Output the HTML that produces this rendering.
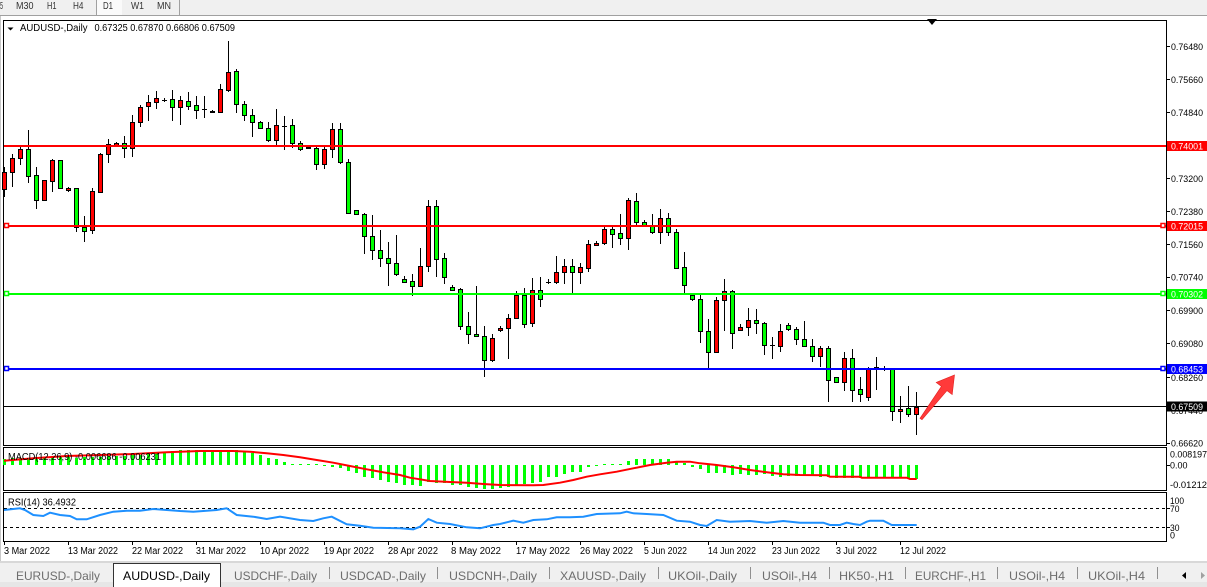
<!DOCTYPE html>
<html><head><meta charset="utf-8"><style>
html,body{margin:0;padding:0;background:#fff;}
svg{display:block;font-family:"Liberation Sans",Arial,sans-serif;}
</style></head><body>
<svg width="1207" height="587" viewBox="0 0 1207 587" xmlns="http://www.w3.org/2000/svg">
<rect x="0" y="0" width="1207" height="587" fill="#fff"/>
<!-- top toolbar -->
<rect x="0" y="0" width="1207" height="15" fill="#f0f0f0"/>
<rect x="96" y="0" width="26" height="15" fill="#fafafa"/>
<line x1="0" y1="15.5" x2="1207" y2="15.5" stroke="#a0a0a0"/>
<line x1="96.5" y1="0" x2="96.5" y2="15" stroke="#a0a0a0"/>
<line x1="179.5" y1="0" x2="179.5" y2="15" stroke="#a0a0a0"/>
<g font-size="10" fill="#333">
<text x="0" y="9" textLength="3" lengthAdjust="spacingAndGlyphs">5</text>
<text x="16" y="9" textLength="17.5" lengthAdjust="spacingAndGlyphs">M30</text>
<text x="47" y="9" textLength="9.5" lengthAdjust="spacingAndGlyphs">H1</text>
<text x="73" y="9" textLength="10.5" lengthAdjust="spacingAndGlyphs">H4</text>
<text x="103" y="9" textLength="10" lengthAdjust="spacingAndGlyphs">D1</text>
<text x="131" y="9" textLength="13" lengthAdjust="spacingAndGlyphs">W1</text>
<text x="157" y="9" textLength="14" lengthAdjust="spacingAndGlyphs">MN</text>
</g>
<line x1="0.5" y1="16" x2="0.5" y2="563" stroke="#c8c8c8"/>

<!-- pane borders -->
<g fill="none" stroke="#000" stroke-width="1" shape-rendering="crispEdges">
<rect x="3.5" y="20.5" width="1163" height="425"/>
<rect x="3.5" y="447.5" width="1163" height="43"/>
<rect x="3.5" y="492.5" width="1163" height="49"/>
</g>
<!-- chart shift marker -->
<path d="M927 19H937L932 25Z" fill="#000"/>

<!-- candles -->
<g shape-rendering="crispEdges">
<path fill="none" stroke="#000" stroke-width="1" d="M4.5 167V197M12.5 154V187M20.5 147V165M28.5 130V183M36.5 167V209M44.5 180V201M52.5 159V192M60.5 160V188M68.5 187V192M76.5 188V232M84.5 216V242M92.5 188V234M100.5 153V193M108.5 139V163M116.5 142V146M124.5 136V158M132.5 115V157M140.5 105V127M148.5 95V121M156.5 91V109M164.5 98V102M172.5 90V121M180.5 96V125M188.5 92V110M196.5 96V119M204.5 96V118M212.5 110V113M220.5 84V113M228.5 41V92M236.5 69V113M244.5 101V121M252.5 109V137M260.5 121V128M268.5 122V142M276.5 109V145M284.5 116V150M292.5 119V148M300.5 141V151M308.5 146V149M316.5 147V170M324.5 147V169M332.5 123V158M340.5 123V164M348.5 159V214M356.5 210V214M364.5 213V254M372.5 215V260M380.5 230V267M388.5 242V286M396.5 235V276M404.5 276V282M412.5 274V296M420.5 248V286M428.5 200V272M436.5 200V277M444.5 253V284M452.5 285V291M460.5 288V330M468.5 312V344M476.5 286V336M484.5 326V377M492.5 334V362M500.5 326V332M508.5 314V359M516.5 291V318M524.5 288V328M532.5 278V327M540.5 277V307M548.5 279V284M556.5 256V284M564.5 259V284M572.5 259V293M580.5 263V284M588.5 240V272M596.5 241V246M604.5 227V245M612.5 227V248M620.5 214V245M628.5 198V250M636.5 193V225M644.5 220V225M652.5 214V234M660.5 209V244M668.5 213V236M676.5 229V269M684.5 252V293M692.5 293V301M700.5 293V343M708.5 319V368M716.5 297V353M724.5 279V331M732.5 290V349M740.5 324V331M748.5 308V336M756.5 309V334M764.5 322V355M772.5 337V359M780.5 324V352M788.5 323V331M796.5 327V345M804.5 321V346M812.5 339V362M820.5 346V367M828.5 346V402M836.5 377V383M844.5 352V391M852.5 349V402M860.5 377V402M868.5 367V401M876.5 357V390M884.5 366V371M892.5 369V421M900.5 396V423M908.5 386V417M916.5 392V435"/>
<path fill="none" stroke="#000" stroke-width="1" d="M162 100.5H167M202 109.5H207M282 126.5H287M546 282.5H551M770 345.5H775M882 369.5H887"/>
<path fill="#ff0000" stroke="#000" stroke-width="1" d="M2.5 172.5h4v17h-4zM10.5 158.5h4v14h-4zM18.5 149.5h4v9h-4zM42.5 180.5h4v20h-4zM50.5 160.5h4v21h-4zM66.5 188.5h4v2h-4zM90.5 191.5h4v39h-4zM98.5 154.5h4v38h-4zM106.5 144.5h4v10h-4zM114.5 143.5h4v2h-4zM130.5 122.5h4v26h-4zM138.5 107.5h4v15h-4zM146.5 102.5h4v4h-4zM154.5 98.5h4v4h-4zM178.5 100.5h4v7h-4zM210.5 111.5h4v1h-4zM218.5 89.5h4v23h-4zM226.5 72.5h4v18h-4zM274.5 125.5h4v15h-4zM322.5 149.5h4v15h-4zM330.5 129.5h4v20h-4zM418.5 266.5h4v20h-4zM426.5 206.5h4v60h-4zM490.5 338.5h4v22h-4zM498.5 328.5h4v2h-4zM506.5 318.5h4v10h-4zM514.5 295.5h4v23h-4zM530.5 290.5h4v33h-4zM554.5 272.5h4v10h-4zM562.5 266.5h4v6h-4zM578.5 267.5h4v5h-4zM586.5 244.5h4v24h-4zM594.5 243.5h4v2h-4zM602.5 229.5h4v14h-4zM626.5 200.5h4v38h-4zM658.5 218.5h4v14h-4zM714.5 300.5h4v52h-4zM722.5 291.5h4v9h-4zM738.5 327.5h4v3h-4zM746.5 320.5h4v7h-4zM778.5 331.5h4v15h-4zM818.5 348.5h4v8h-4zM842.5 358.5h4v24h-4zM866.5 368.5h4v29h-4zM874.5 367.5h4v2h-4zM898.5 409.5h4v2h-4zM914.5 407.5h4v7h-4z"/>
<path fill="#00ff00" stroke="#000" stroke-width="1" d="M26.5 149.5h4v27h-4zM34.5 175.5h4v25h-4zM58.5 160.5h4v28h-4zM74.5 188.5h4v39h-4zM82.5 227.5h4v4h-4zM122.5 143.5h4v5h-4zM170.5 99.5h4v8h-4zM186.5 101.5h4v5h-4zM194.5 105.5h4v5h-4zM234.5 71.5h4v33h-4zM242.5 104.5h4v11h-4zM250.5 115.5h4v7h-4zM258.5 122.5h4v6h-4zM266.5 128.5h4v12h-4zM290.5 125.5h4v18h-4zM298.5 143.5h4v6h-4zM306.5 147.5h4v1h-4zM314.5 148.5h4v16h-4zM338.5 129.5h4v33h-4zM346.5 162.5h4v51h-4zM354.5 210.5h4v4h-4zM362.5 214.5h4v22h-4zM370.5 236.5h4v14h-4zM378.5 250.5h4v8h-4zM386.5 258.5h4v5h-4zM394.5 263.5h4v11h-4zM402.5 279.5h4v3h-4zM410.5 281.5h4v5h-4zM434.5 206.5h4v53h-4zM442.5 258.5h4v19h-4zM450.5 287.5h4v3h-4zM458.5 289.5h4v37h-4zM466.5 326.5h4v8h-4zM474.5 334.5h4v2h-4zM482.5 336.5h4v24h-4zM522.5 295.5h4v29h-4zM538.5 290.5h4v9h-4zM570.5 266.5h4v6h-4zM610.5 229.5h4v5h-4zM618.5 233.5h4v5h-4zM634.5 201.5h4v21h-4zM642.5 222.5h4v3h-4zM650.5 225.5h4v7h-4zM666.5 218.5h4v14h-4zM674.5 232.5h4v36h-4zM682.5 267.5h4v18h-4zM690.5 295.5h4v4h-4zM698.5 299.5h4v32h-4zM706.5 331.5h4v21h-4zM730.5 291.5h4v42h-4zM754.5 320.5h4v3h-4zM762.5 323.5h4v22h-4zM786.5 325.5h4v4h-4zM794.5 329.5h4v10h-4zM802.5 339.5h4v7h-4zM810.5 346.5h4v10h-4zM826.5 348.5h4v32h-4zM834.5 377.5h4v5h-4zM850.5 358.5h4v32h-4zM858.5 389.5h4v5h-4zM890.5 369.5h4v42h-4zM906.5 408.5h4v6h-4z"/>
</g>

<!-- horizontal lines -->
<g shape-rendering="crispEdges">
<line x1="4" y1="146" x2="1166" y2="146" stroke="#ff0000" stroke-width="2"/>
<line x1="4" y1="226" x2="1166" y2="226" stroke="#ff0000" stroke-width="2"/>
<line x1="4" y1="294" x2="1166" y2="294" stroke="#00ff00" stroke-width="2"/>
<line x1="4" y1="369" x2="1166" y2="369" stroke="#0000ff" stroke-width="2"/>
<line x1="4" y1="406.5" x2="1166" y2="406.5" stroke="#000" stroke-width="1"/>
</g>
<g fill="#fff" stroke-width="1.5">
<rect x="4.5" y="223.5" width="4" height="4" stroke="#ff0000"/>
<rect x="1161" y="223.5" width="4" height="4" stroke="#ff0000"/>
<rect x="4.5" y="291.5" width="4" height="4" stroke="#00ff00"/>
<rect x="1161" y="291.5" width="4" height="4" stroke="#00ff00"/>
<rect x="4.5" y="366.5" width="4" height="4" stroke="#0000ff"/>
<rect x="1161" y="366.5" width="4" height="4" stroke="#0000ff"/>
</g>

<!-- red arrow -->
<path d="M922 419.7L947 390.6L952.2 394.6L954.5 375L936.2 382.4L941.4 386.4L920 418.3Z" fill="#ff3a3a" stroke="#e02020" stroke-width="0.6"/>

<!-- title -->
<path d="M7.5 27.5H13.5L10.5 30.5Z" fill="#000"/>
<g font-size="10" fill="#000">
<text x="20" y="31" textLength="67.5" lengthAdjust="spacingAndGlyphs">AUDUSD-,Daily</text>
<text x="94.5" y="31" textLength="140.5" lengthAdjust="spacingAndGlyphs">0.67325 0.67870 0.66806 0.67509</text>
</g>

<!-- price axis -->
<g stroke="#000" shape-rendering="crispEdges">
<path d="M1166 46.5h4M1166 79.5h4M1166 112.5h4M1166 178.5h4M1166 211.5h4M1166 244.5h4M1166 277.5h4M1166 310.5h4M1166 343.5h4M1166 377.5h4M1166 410.5h4M1166 443.5h4M1166 465.5h4M1166 508.5h4M1166 527.5h4"/>
</g>
<g font-size="9.5" fill="#000">
<text x="1171" y="50" textLength="32" lengthAdjust="spacingAndGlyphs">0.76480</text>
<text x="1171" y="83" textLength="32" lengthAdjust="spacingAndGlyphs">0.75660</text>
<text x="1171" y="116" textLength="32" lengthAdjust="spacingAndGlyphs">0.74840</text>
<text x="1171" y="182" textLength="32" lengthAdjust="spacingAndGlyphs">0.73200</text>
<text x="1171" y="215" textLength="32" lengthAdjust="spacingAndGlyphs">0.72380</text>
<text x="1171" y="248" textLength="32" lengthAdjust="spacingAndGlyphs">0.71560</text>
<text x="1171" y="280.5" textLength="32" lengthAdjust="spacingAndGlyphs">0.70740</text>
<text x="1171" y="314" textLength="32" lengthAdjust="spacingAndGlyphs">0.69900</text>
<text x="1171" y="347" textLength="32" lengthAdjust="spacingAndGlyphs">0.69080</text>
<text x="1171" y="381" textLength="32" lengthAdjust="spacingAndGlyphs">0.68260</text>
<text x="1171" y="414" textLength="32" lengthAdjust="spacingAndGlyphs">0.67440</text>
<text x="1171" y="446.5" textLength="32" lengthAdjust="spacingAndGlyphs">0.66620</text>
</g>
<rect x="1167" y="141" width="40" height="10" fill="#ff0000"/>
<rect x="1167" y="221" width="40" height="10" fill="#ff0000"/>
<rect x="1167" y="289" width="40" height="10" fill="#00ff00"/>
<rect x="1167" y="364" width="40" height="10" fill="#0000ff"/>
<rect x="1167" y="401.5" width="40" height="10" fill="#000"/>
<g font-size="9.5" fill="#fff">
<text x="1171" y="149.5" textLength="32" lengthAdjust="spacingAndGlyphs">0.74001</text>
<text x="1171" y="229.5" textLength="32" lengthAdjust="spacingAndGlyphs">0.72015</text>
<text x="1171" y="297.5" textLength="32" lengthAdjust="spacingAndGlyphs">0.70302</text>
<text x="1171" y="372.5" textLength="32" lengthAdjust="spacingAndGlyphs">0.68453</text>
<text x="1171" y="410" textLength="32" lengthAdjust="spacingAndGlyphs">0.67509</text>
</g>

<!-- MACD pane -->
<path fill="#00ff00" shape-rendering="crispEdges" d="M3 459h3V465h-3zM11 458h3V465h-3zM19 458h3V465h-3zM27 458h3V465h-3zM35 457h3V465h-3zM43 457h3V465h-3zM51 457h3V465h-3zM59 457h3V465h-3zM67 457h3V465h-3zM75 458h3V465h-3zM83 457h3V465h-3zM91 457h3V465h-3zM99 457h3V465h-3zM107 456h3V465h-3zM115 456h3V465h-3zM123 456h3V465h-3zM131 455h3V465h-3zM139 455h3V465h-3zM147 454h3V465h-3zM155 453h3V465h-3zM163 452h3V465h-3zM171 451h3V465h-3zM179 450h3V465h-3zM187 450h3V465h-3zM195 450h3V465h-3zM203 450h3V465h-3zM211 450h3V465h-3zM219 450h3V465h-3zM227 450h3V465h-3zM235 450h3V465h-3zM243 452h3V465h-3zM251 453h3V465h-3zM259 455h3V465h-3zM267 458h3V465h-3zM275 459h3V465h-3zM283 462h3V465h-3zM291 464h3V465h-3zM299 464h3V465h-3zM307 464h3V465h-3zM315 464h3V465h-3zM323 466h3V465h-3zM331 467h3V465h-3zM339 468h3V465h-3zM347 471h3V465h-3zM355 473h3V465h-3zM363 477h3V465h-3zM371 478h3V465h-3zM379 480h3V465h-3zM387 482h3V465h-3zM395 483h3V465h-3zM403 485h3V465h-3zM411 485h3V465h-3zM419 486h3V465h-3zM427 482h3V465h-3zM435 483h3V465h-3zM443 483h3V465h-3zM451 485h3V465h-3zM459 485h3V465h-3zM467 487h3V465h-3zM475 488h3V465h-3zM483 489h3V465h-3zM491 489h3V465h-3zM499 488h3V465h-3zM507 487h3V465h-3zM515 485h3V465h-3zM523 484h3V465h-3zM531 483h3V465h-3zM539 482h3V465h-3zM547 477h3V465h-3zM555 477h3V465h-3zM563 474h3V465h-3zM571 472h3V465h-3zM579 472h3V465h-3zM587 467h3V465h-3zM595 466h3V465h-3zM603 464h3V465h-3zM611 464h3V465h-3zM619 464h3V465h-3zM627 461h3V465h-3zM635 459h3V465h-3zM643 459h3V465h-3zM651 459h3V465h-3zM659 459h3V465h-3zM667 459h3V465h-3zM675 461h3V465h-3zM683 463h3V465h-3zM691 467h3V465h-3zM699 469h3V465h-3zM707 473h3V465h-3zM715 473h3V465h-3zM723 473h3V465h-3zM731 475h3V465h-3zM739 474h3V465h-3zM747 475h3V465h-3zM755 475h3V465h-3zM763 474h3V465h-3zM771 476h3V465h-3zM779 477h3V465h-3zM787 476h3V465h-3zM795 476h3V465h-3zM803 476h3V465h-3zM811 476h3V465h-3zM819 477h3V465h-3zM827 477h3V465h-3zM835 478h3V465h-3zM843 478h3V465h-3zM851 478h3V465h-3zM859 478h3V465h-3zM867 478h3V465h-3zM875 478h3V465h-3zM883 478h3V465h-3zM891 478h3V465h-3zM899 478h3V465h-3zM907 479h3V465h-3zM915 479h3V465h-3z"/>
<polyline fill="none" stroke="#ff0000" stroke-width="2" points="4,460.7 33.3,458.3 66.7,456 100,455 133.3,454 166.7,452.3 200,451 233.3,451 250,451.7 266.7,453.3 283.3,455 300,457.3 316.7,460 333.3,462.7 350,466 366.7,469.3 383.3,472.3 400,475 410,477.7 420,479.3 430,481 450,482 466.7,482.7 483.3,484 500,485 533.3,485.3 543.3,485 560,482.7 573.3,480 586.7,476.7 600,474.3 616.7,471.7 633.3,468.3 650,465 666.7,462.7 676.7,461.7 690,461.7 700,463.3 716.7,465 733.3,467.3 750,470 766.7,472.3 783.3,474.3 800,475 826.7,475.3 830,476.7 860,476.7 861.7,477.7 906.7,477.7 910,479 916.7,479"/>
<text x="8" y="460" font-size="10" fill="#000" textLength="153" lengthAdjust="spacingAndGlyphs">MACD(12,26,9) -0.006686 -0.006231</text>
<g font-size="9.5" fill="#000">
<text x="1170" y="457.5" textLength="37" lengthAdjust="spacingAndGlyphs">0.008197</text>
<text x="1170" y="468.5" textLength="17.5" lengthAdjust="spacingAndGlyphs">0.00</text>
<text x="1170" y="488" textLength="37" lengthAdjust="spacingAndGlyphs">-0.01212</text>
</g>

<!-- RSI pane -->
<g stroke="#000" stroke-width="1" stroke-dasharray="3,3" shape-rendering="crispEdges">
<line x1="4" y1="508.5" x2="1166" y2="508.5"/>
<line x1="4" y1="527.5" x2="1166" y2="527.5"/>
</g>
<polyline fill="none" stroke="#1e90ff" stroke-width="2" points="4,510 20,508.3 25,510 33.3,515 43.3,516 50,512.7 60,515 70,516 76.7,519.3 86.7,519.3 100,515 113.3,511.7 126.7,510.7 140,510.7 153.3,509 166.7,510 180,511 193.3,511.7 216.7,510 226.7,508.3 236.7,515 253.3,516.7 266.7,519 280,516.7 300,520 313.3,521 323.3,518.3 331.7,516.7 346.7,524.3 360,525.7 373.3,527.7 400,528.3 413.3,529.3 420,526.7 428.3,519 436.7,522.7 450,524 466.7,527.3 480,528.3 493.3,525 500,524 513.3,520.7 523.3,522.7 533.3,520 546.7,519.3 556.7,517.3 570,517.3 583.3,516.7 596.7,514 620,513.3 626.7,511.7 633.3,513.3 646.7,514 663.3,515 676.7,520.7 690,521.7 700,525 706.7,526 716.7,520 730,521.7 750,521 766.7,522.7 783.3,521 800,522.7 823.3,522.7 830,525 840,525 846.7,522.7 853.3,524 860,525 866.7,521.7 870,520.7 883.3,520.7 891.7,525 916.7,525"/>
<text x="8" y="505.5" font-size="10" fill="#000" textLength="68" lengthAdjust="spacingAndGlyphs">RSI(14) 36.4932</text>
<g font-size="9.5" fill="#000">
<text x="1170" y="504" textLength="14" lengthAdjust="spacingAndGlyphs">100</text>
<text x="1170" y="512" textLength="9.5" lengthAdjust="spacingAndGlyphs">70</text>
<text x="1170" y="531" textLength="9.5" lengthAdjust="spacingAndGlyphs">30</text>
<text x="1170" y="538.5" textLength="5" lengthAdjust="spacingAndGlyphs">0</text>
</g>

<!-- date axis -->
<path stroke="#000" shape-rendering="crispEdges" d="M4.5 541v4M68.5 541v4M132.5 541v4M196.5 541v4M260.5 541v4M324.5 541v4M388.5 541v4M452.5 541v4M516.5 541v4M580.5 541v4M644.5 541v4M708.5 541v4M772.5 541v4M836.5 541v4M900.5 541v4"/>
<g font-size="10" fill="#000">
<text x="4" y="554" textLength="46" lengthAdjust="spacingAndGlyphs">3 Mar 2022</text>
<text x="68" y="554" textLength="50" lengthAdjust="spacingAndGlyphs">13 Mar 2022</text>
<text x="132" y="554" textLength="51" lengthAdjust="spacingAndGlyphs">22 Mar 2022</text>
<text x="196" y="554" textLength="50" lengthAdjust="spacingAndGlyphs">31 Mar 2022</text>
<text x="260" y="554" textLength="49" lengthAdjust="spacingAndGlyphs">10 Apr 2022</text>
<text x="324" y="554" textLength="50" lengthAdjust="spacingAndGlyphs">19 Apr 2022</text>
<text x="388" y="554" textLength="50" lengthAdjust="spacingAndGlyphs">28 Apr 2022</text>
<text x="451" y="554" textLength="50" lengthAdjust="spacingAndGlyphs">8 May 2022</text>
<text x="516" y="554" textLength="54" lengthAdjust="spacingAndGlyphs">17 May 2022</text>
<text x="580" y="554" textLength="53" lengthAdjust="spacingAndGlyphs">26 May 2022</text>
<text x="644" y="554" textLength="43" lengthAdjust="spacingAndGlyphs">5 Jun 2022</text>
<text x="708" y="554" textLength="48" lengthAdjust="spacingAndGlyphs">14 Jun 2022</text>
<text x="772" y="554" textLength="48" lengthAdjust="spacingAndGlyphs">23 Jun 2022</text>
<text x="836" y="554" textLength="41" lengthAdjust="spacingAndGlyphs">3 Jul 2022</text>
<text x="900" y="554" textLength="46" lengthAdjust="spacingAndGlyphs">12 Jul 2022</text>
</g>

<!-- bottom tabs -->
<rect x="0" y="561" width="1207" height="2" fill="#d8d8d8"/>
<rect x="0" y="563" width="1207" height="24" fill="#f0f0f0"/>
<rect x="0" y="582" width="1207" height="5" fill="#e6e6e6"/>
<rect x="113.5" y="563.5" width="107" height="24" fill="#fff" stroke="#333"/>
<g stroke="#909090" shape-rendering="crispEdges">
<path d="M329.5 567v12M437.5 567v12M549.5 567v12M658.5 567v12M750.5 567v12M829.5 567v12M905.5 567v12M997.5 567v12M1077.5 567v12M1157.5 567v12"/>
</g>
<g font-size="12" fill="#6d6d6d">
<text x="16" y="580" textLength="84" lengthAdjust="spacingAndGlyphs">EURUSD-,Daily</text>
<text x="123" y="580" textLength="87" lengthAdjust="spacingAndGlyphs" fill="#000">AUDUSD-,Daily</text>
<text x="234" y="580" textLength="83" lengthAdjust="spacingAndGlyphs">USDCHF-,Daily</text>
<text x="340" y="580" textLength="86" lengthAdjust="spacingAndGlyphs">USDCAD-,Daily</text>
<text x="449" y="580" textLength="88" lengthAdjust="spacingAndGlyphs">USDCNH-,Daily</text>
<text x="560" y="580" textLength="86" lengthAdjust="spacingAndGlyphs">XAUUSD-,Daily</text>
<text x="668" y="580" textLength="69" lengthAdjust="spacingAndGlyphs">UKOil-,Daily</text>
<text x="762" y="580" textLength="55" lengthAdjust="spacingAndGlyphs">USOil-,H4</text>
<text x="839" y="580" textLength="55" lengthAdjust="spacingAndGlyphs">HK50-,H1</text>
<text x="915" y="580" textLength="71" lengthAdjust="spacingAndGlyphs">EURCHF-,H1</text>
<text x="1009" y="580" textLength="56" lengthAdjust="spacingAndGlyphs">USOil-,H4</text>
<text x="1088" y="580" textLength="57" lengthAdjust="spacingAndGlyphs">UKOil-,H4</text>
</g>
<path d="M1186 572V579L1182 575.5Z" fill="#000"/>
<path d="M1201 572V579L1205 575.5Z" fill="#a0a0a0"/>
</svg>
</body></html>
